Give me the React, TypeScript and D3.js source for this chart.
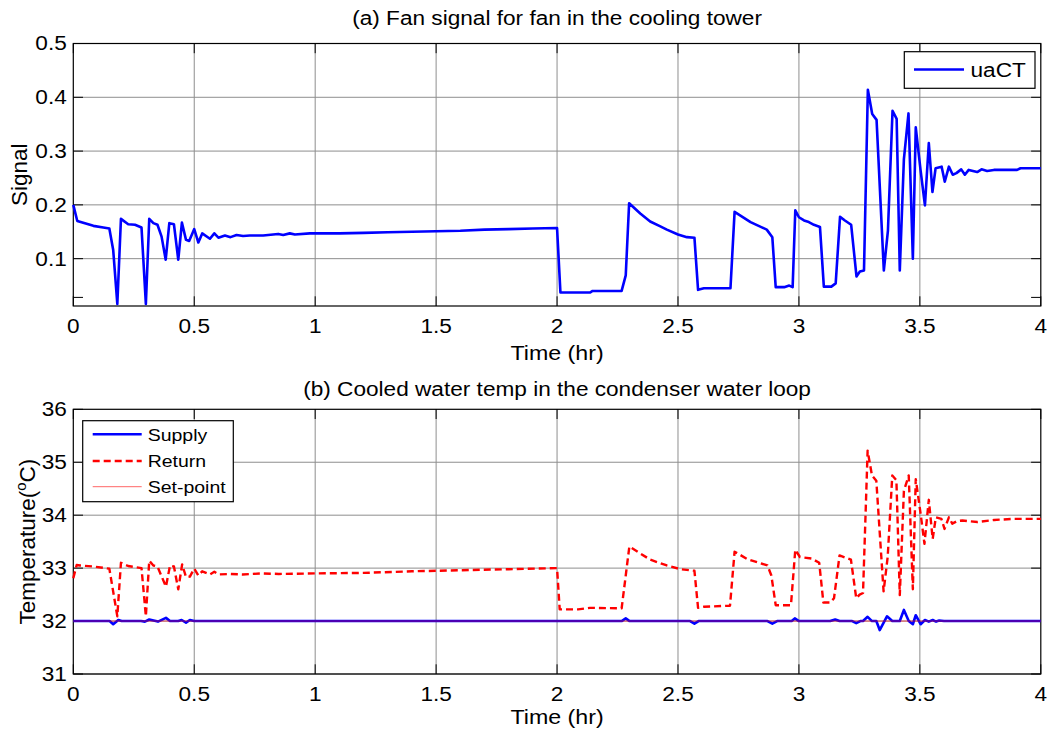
import React from 'react';
import * as d3 from 'd3';

// ---------- data ----------
const timeTicks = [0, 0.5, 1, 1.5, 2, 2.5, 3, 3.5, 4];
const signalTicks = [0.1, 0.2, 0.3, 0.4, 0.5];
const signalMinorTicks = [0.028];
const tempTicks = [31, 32, 33, 34, 35, 36];

const uaTime = [0, 0.0165, 0.083, 0.124, 0.149, 0.165, 0.182, 0.197, 0.227, 0.255, 0.282, 0.3, 0.314, 0.331, 0.348, 0.365, 0.382, 0.397, 0.416, 0.434, 0.449, 0.466, 0.479, 0.5, 0.517, 0.533, 0.565, 0.583, 0.6, 0.627, 0.65, 0.675, 0.702, 0.73, 0.785, 0.847, 0.868, 0.895, 0.916, 0.978, 1.1, 1.2, 1.3, 1.4, 1.5, 1.6, 1.7, 1.8, 1.9, 2.0, 2.014, 2.136, 2.147, 2.267, 2.284, 2.298, 2.344, 2.385, 2.427, 2.454, 2.5, 2.537, 2.568, 2.583, 2.607, 2.717, 2.734, 2.8, 2.867, 2.89, 2.904, 2.939, 2.96, 2.974, 2.985, 3.0, 3.021, 3.041, 3.062, 3.087, 3.103, 3.134, 3.152, 3.17, 3.19, 3.216, 3.238, 3.252, 3.269, 3.285, 3.303, 3.321, 3.351, 3.368, 3.387, 3.404, 3.417, 3.434, 3.453, 3.471, 3.483, 3.503, 3.521, 3.537, 3.552, 3.565, 3.59, 3.603, 3.62, 3.636, 3.651, 3.671, 3.686, 3.702, 3.737, 3.755, 3.778, 3.806, 3.833, 3.902, 3.916, 4.0];
const uaValue = [0.2, 0.17, 0.161, 0.158, 0.156, 0.116, 0.016, 0.174, 0.164, 0.163, 0.158, 0.016, 0.174, 0.166, 0.163, 0.141, 0.098, 0.166, 0.164, 0.098, 0.167, 0.135, 0.133, 0.155, 0.13, 0.147, 0.137, 0.147, 0.139, 0.143, 0.14, 0.144, 0.142, 0.143, 0.143, 0.146, 0.144, 0.147, 0.145, 0.147, 0.147, 0.148, 0.149, 0.15, 0.151, 0.152, 0.154, 0.155, 0.156, 0.157, 0.037, 0.037, 0.04, 0.04, 0.069, 0.203, 0.184, 0.169, 0.16, 0.154, 0.145, 0.14, 0.139, 0.042, 0.045, 0.045, 0.187, 0.168, 0.154, 0.14, 0.047, 0.047, 0.05, 0.047, 0.19, 0.177, 0.171, 0.168, 0.163, 0.159, 0.048, 0.048, 0.054, 0.178, 0.171, 0.163, 0.067, 0.076, 0.078, 0.414, 0.369, 0.358, 0.078, 0.152, 0.375, 0.36, 0.078, 0.285, 0.37, 0.1, 0.344, 0.264, 0.199, 0.315, 0.224, 0.268, 0.271, 0.243, 0.271, 0.256, 0.259, 0.266, 0.256, 0.265, 0.261, 0.266, 0.263, 0.265, 0.265, 0.265, 0.268, 0.268];

const returnTime = [0, 0.014, 0.028, 0.083, 0.149, 0.182, 0.197, 0.227, 0.282, 0.3, 0.314, 0.331, 0.348, 0.383, 0.4, 0.416, 0.434, 0.45, 0.466, 0.482, 0.5, 0.517, 0.533, 0.565, 0.583, 0.6, 0.65, 0.7, 0.78, 0.85, 1.0, 1.2, 1.4, 1.6, 1.8, 2.0, 2.011, 2.087, 2.136, 2.267, 2.299, 2.343, 2.385, 2.454, 2.51, 2.568, 2.583, 2.607, 2.715, 2.734, 2.787, 2.87, 2.886, 2.904, 2.967, 2.985, 3.004, 3.053, 3.084, 3.101, 3.129, 3.145, 3.168, 3.215, 3.237, 3.251, 3.265, 3.284, 3.302, 3.32, 3.35, 3.367, 3.386, 3.403, 3.417, 3.434, 3.454, 3.471, 3.483, 3.503, 3.519, 3.537, 3.553, 3.566, 3.589, 3.602, 3.62, 3.634, 3.655, 3.676, 3.738, 3.807, 3.89, 4.0];
const returnValue = [32.81, 33.06, 33.05, 33.03, 32.99, 32.09, 33.1, 33.04, 33.0, 32.09, 33.14, 33.05, 33.03, 32.65, 33.05, 33.03, 32.6, 33.07, 32.83, 32.84, 32.99, 32.86, 32.94, 32.88, 32.93, 32.88, 32.89, 32.88, 32.9, 32.89, 32.9, 32.91, 32.94, 32.96, 32.98, 33.0, 32.22, 32.22, 32.25, 32.24, 33.41, 33.28, 33.16, 33.05, 32.98, 32.95, 32.25, 32.27, 32.29, 33.31, 33.17, 33.05, 32.86, 32.3, 32.3, 33.35, 33.21, 33.18, 33.1, 32.35, 32.35, 32.43, 33.24, 33.16, 32.43, 32.5, 32.53, 35.22, 34.75, 34.65, 32.56, 33.21, 34.75, 34.66, 32.49, 34.46, 34.75, 32.6, 34.68, 34.03, 33.46, 34.29, 33.55, 33.96, 33.93, 33.74, 33.96, 33.84, 33.89, 33.9, 33.87, 33.91, 33.93, 33.93];

const supplyTime = [0, 0.15, 0.165, 0.186, 0.2, 0.28, 0.296, 0.314, 0.35, 0.383, 0.4, 0.434, 0.448, 0.466, 0.482, 0.5, 2.267, 2.284, 2.3, 2.55, 2.568, 2.585, 2.87, 2.89, 2.91, 2.97, 2.983, 3.0, 3.129, 3.15, 3.168, 3.22, 3.237, 3.254, 3.265, 3.284, 3.302, 3.32, 3.334, 3.364, 3.386, 3.417, 3.434, 3.454, 3.471, 3.483, 3.503, 3.521, 3.537, 3.553, 3.567, 3.58, 3.6, 4.0];
const supplyValue = [32, 32, 31.94, 32.02, 32, 32, 31.99, 32.03, 31.99, 32.06, 32, 32, 32.02, 31.97, 32.02, 32, 32, 32.05, 32, 32, 31.95, 32, 32, 31.95, 32, 32, 32.05, 32, 32, 32.03, 32, 32, 31.96, 32, 32, 32.08, 32, 32, 31.83, 32.09, 32, 32, 32.21, 32, 31.94, 32.11, 31.94, 32.02, 31.99, 32.02, 31.99, 32.01, 32, 32];

const setpointTime = [0, 4];
const setpointValue = [32, 32];

// ---------- layout ----------
const W = 1052;
const H = 732;
const SX = 1.16;
const FONT = "'Liberation Sans', Arial, Helvetica, sans-serif";
const LEFT = 73.3;
const RIGHT = 1040.8;
const TICK = 9.7;
const GRID = '#8e8e8e';

type TxtProps = { x: number; y: number; anchor?: string; size?: number; children: React.ReactNode };
function Txt({ x, y, anchor = 'middle', size = 19.5, children }: TxtProps) {
  return (
    <text
      transform={`translate(${x},${y}) scale(${SX},1)`}
      textAnchor={anchor}
      dominantBaseline="central"
      fontSize={size}
      fontFamily={FONT}
      fill="#000"
    >
      {children}
    </text>
  );
}

function Frame({ x, y, yTicks, yMinor, fmt }: any) {
  const [x0, x1] = x.range();
  const [yb, yt] = y.range();
  return (
    <g>
      {timeTicks.slice(1, -1).map((t: number) => (
        <line key={'gx' + t} x1={x(t)} x2={x(t)} y1={yt} y2={yb} stroke={GRID} strokeWidth={1} />
      ))}
      {yTicks.filter((v: number) => Math.abs(y(v) - yt) > 1).map((v: number) => (
        <line key={'gy' + v} x1={x0} x2={x1} y1={y(v)} y2={y(v)} stroke={GRID} strokeWidth={1} />
      ))}
      {timeTicks.map((t: number) => (
        <g key={'tx' + t}>
          <line x1={x(t)} x2={x(t)} y1={yb} y2={yb - TICK} stroke="#000" strokeWidth={1} />
          <line x1={x(t)} x2={x(t)} y1={yt} y2={yt + TICK} stroke="#000" strokeWidth={1} />
        </g>
      ))}
      {[...yTicks, ...yMinor].map((v: number) => (
        <g key={'ty' + v}>
          <line x1={x0} x2={x0 + TICK} y1={y(v)} y2={y(v)} stroke="#000" strokeWidth={1} />
          <line x1={x1} x2={x1 - TICK} y1={y(v)} y2={y(v)} stroke="#000" strokeWidth={1} />
        </g>
      ))}
      <rect x={x0} y={yt} width={x1 - x0} height={yb - yt} fill="none" stroke="#000" strokeWidth={1.2} />
      {timeTicks.map((t: number) => (
        <Txt key={'lx' + t} x={x(t)} y={yb + 20}>{String(t)}</Txt>
      ))}
      {yTicks.map((v: number) => (
        <Txt key={'ly' + v} x={x0 - 6.5} y={y(v)} anchor="end">{fmt(v)}</Txt>
      ))}
    </g>
  );
}

function pts(t: number[], v: number[]) {
  return t.map((ti, i) => [ti, v[i]] as [number, number]);
}

export default function App() {
  const x = d3.scaleLinear().domain([0, 4]).range([LEFT, RIGHT]);
  const yTop = d3.scaleLinear().domain([0.012, 0.5]).range([306, 43.5]);
  const yBot = d3.scaleLinear().domain([31, 36]).range([674, 409.3]);

  const lineTop = d3.line<[number, number]>().x(d => x(d[0])).y(d => yTop(d[1]));
  const lineBot = d3.line<[number, number]>().x(d => x(d[0])).y(d => yBot(d[1]));

  const midX = (LEFT + RIGHT) / 2;

  return (
    <svg width={W} height={H} style={{ position: 'absolute', left: 0, top: 0, background: '#fff' }}>
      <rect x={0} y={0} width={W} height={H} fill="#fff" />
      {/* ---------- panel (a) ---------- */}
      <Txt x={midX} y={18}>(a) Fan signal for fan in the cooling tower</Txt>
      <Frame x={x} y={yTop} yTicks={signalTicks} yMinor={signalMinorTicks} fmt={(v: number) => v.toFixed(1)} />
      <path d={lineTop(pts(uaTime, uaValue)) || ''} fill="none" stroke="#0000ff" strokeWidth={2.6} strokeLinejoin="round" />
      <Txt x={midX} y={353} size={20}>Time (hr)</Txt>
      <text transform={`translate(19,${(306 + 43.5) / 2}) rotate(-90)`} textAnchor="middle" dominantBaseline="central" fontSize={22.5} fontFamily={FONT}>Signal</text>
      {/* legend (a) */}
      <g>
        <rect x={904.3} y={51.7} width={130.7} height={36.6} fill="#fff" stroke="#000" strokeWidth={1.2} />
        <line x1={914} x2={964} y1={69.5} y2={69.5} stroke="#0000ff" strokeWidth={2.6} />
        <Txt x={970.5} y={70} anchor="start">uaCT</Txt>
      </g>

      {/* ---------- panel (b) ---------- */}
      <Txt x={midX} y={389}>(b) Cooled water temp in the condenser water loop</Txt>
      <Frame x={x} y={yBot} yTicks={tempTicks} yMinor={[]} fmt={(v: number) => String(v)} />
      <path d={lineBot(pts(supplyTime, supplyValue)) || ''} fill="none" stroke="#0000ff" strokeWidth={2.6} strokeLinejoin="round" />
      <path d={lineBot(pts(returnTime, returnValue)) || ''} fill="none" stroke="#ff0000" strokeWidth={2.4} strokeDasharray="7,4" strokeLinejoin="round" />
      <path d={lineBot(pts(setpointTime, setpointValue)) || ''} fill="none" stroke="#ff0000" strokeOpacity={0.6} strokeWidth={1} />
      <Txt x={midX} y={717} size={20}>Time (hr)</Txt>
      <text transform={`translate(27,${(674 + 409.3) / 2}) rotate(-90)`} textAnchor="middle" dominantBaseline="central" fontSize={22.5} fontFamily={FONT}>
        Temperature(<tspan fontSize={15} dy={-7}>o</tspan><tspan dy={7}>C)</tspan>
      </text>
      {/* legend (b) */}
      <g>
        <rect x={82.7} y={420.7} width={150.6} height={81} fill="#fff" stroke="#000" strokeWidth={1.2} />
        <line x1={92.7} x2={141.7} y1={434.3} y2={434.3} stroke="#0000ff" strokeWidth={2.6} />
        <Txt x={147.7} y={435} anchor="start" size={16.8}>Supply</Txt>
        <line x1={92.7} x2={141.7} y1={461} y2={461} stroke="#ff0000" strokeWidth={2.4} strokeDasharray="7,4" />
        <Txt x={147.7} y={461.5} anchor="start" size={16.8}>Return</Txt>
        <line x1={92.7} x2={141.7} y1={486.7} y2={486.7} stroke="#ff0000" strokeOpacity={0.6} strokeWidth={1} />
        <Txt x={147.7} y={487} anchor="start" size={16.8}>Set-point</Txt>
      </g>
    </svg>
  );
}
